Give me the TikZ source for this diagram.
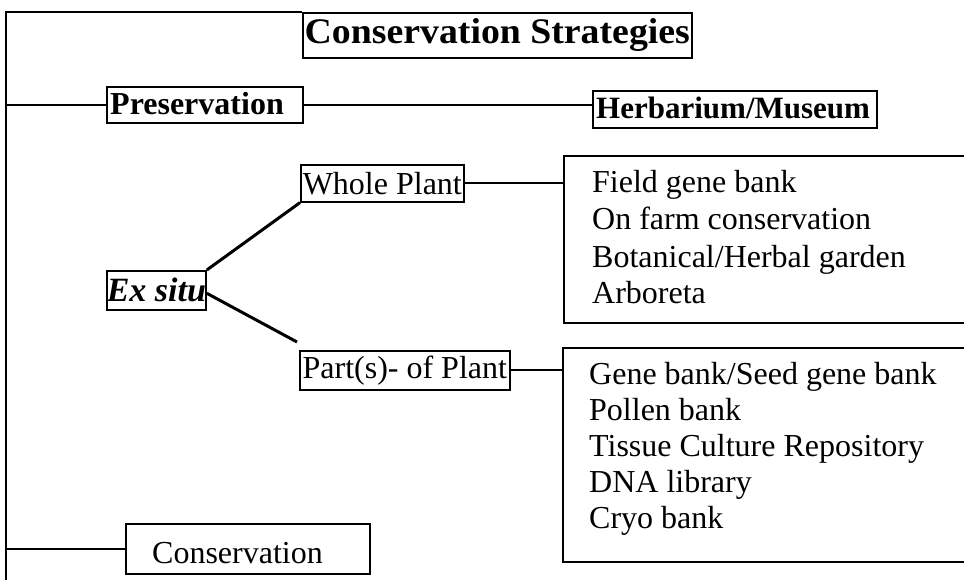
\documentclass[tikz,border=0pt]{standalone}
\usepackage{fontspec}
\setmainfont{Liberation Serif}
\newfontfamily\titlefont[FakeStretch=1.05]{Liberation Serif}
\begin{document}
\begin{tikzpicture}[x=1pt,y=-1pt,
  box/.style={draw, line width=1.6pt, inner sep=0pt, anchor=north west},
  conn/.style={line width=2pt},
  diag/.style={line width=3pt},
  listtxt/.style={anchor=base west, inner sep=0pt, font=\fontsize{32}{32}\selectfont},
]
\useasboundingbox (0,0) rectangle (964,580);
\clip (0,0) rectangle (964,580);

\node[box, minimum width=389pt, minimum height=45pt, font=\titlefont\bfseries\fontsize{36}{36}\selectfont] (title) at (302,12) {Conservation Strategies};
\node[box, minimum width=196pt, minimum height=36pt] (pres) at (106,86) {};
\node[box, minimum width=284pt, minimum height=37pt] (herb) at (592,90) {};
\node[box, minimum width=163pt, minimum height=37pt, font=\fontsize{32}{32}\selectfont] (whole) at (300,164) {Whole Plant};
\node[box, minimum width=99pt, minimum height=39pt, font=\bfseries\itshape\fontsize{34}{34}\selectfont] (exsitu) at (106,270) {Ex situ};
\node[box, minimum width=210pt, minimum height=39pt, font=\fontsize{32}{32}\selectfont] (parts) at (299,350) {Part(s)- of Plant};
\node[box, minimum width=420pt, minimum height=167pt] (fieldbox) at (563,155) {};
\node[box, minimum width=420pt, minimum height=214pt] (partsbox) at (562,347) {};
\node[box, minimum width=244pt, minimum height=50pt] (cons) at (125,523) {};

\node[anchor=base west, inner sep=0pt, font=\bfseries\fontsize{32}{32}\selectfont] (prestxt) at (110,115) {Preservation};
\node[anchor=base west, inner sep=0pt, font=\bfseries\fontsize{31}{31}\selectfont] (herbtxt) at (596,119) {Herbarium/Museum};

\node[listtxt] (f1) at (592,193) {Field gene bank};
\node[listtxt] (f2) at (592,230) {On farm conservation};
\node[listtxt] (f3) at (592,267) {Botanical/Herbal garden};
\node[listtxt] (f4) at (592,303) {Arboreta};

\node[listtxt] (p1) at (589,384) {Gene bank/Seed gene bank};
\node[listtxt] (p2) at (589,420) {Pollen bank};
\node[listtxt] (p3) at (589,456) {Tissue Culture Repository};
\node[listtxt] (p4) at (589,492) {DNA library};
\node[listtxt] (p5) at (589,528) {Cryo bank};

\node[listtxt] (constxt) at (152,563) {Conservation};

\coordinate (topleft) at (6,12);
\coordinate (botleft) at (6,590);
\coordinate (lowend) at (297,342);

\draw[line width=2.4pt] (botleft) -- (topleft) -- (title.north west);
\draw[conn] (pres.west -| topleft) -- (pres.west);
\draw[conn] (pres.east) -- (pres.east -| herb.west);
\draw[conn] (whole.east) -- (whole.east -| fieldbox.west);
\draw[conn] (parts.east) -- (parts.east -| partsbox.west);
\draw[conn] (cons.west -| topleft) -- (cons.west);
\draw[diag] (exsitu.north east) -- (whole.south west);
\draw[diag] ([yshift=-3pt]exsitu.east) -- (lowend);
\end{tikzpicture}
\end{document}
